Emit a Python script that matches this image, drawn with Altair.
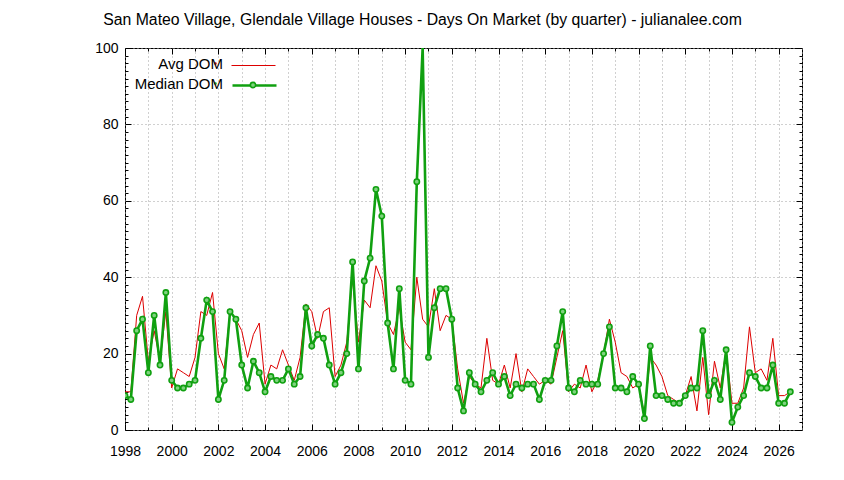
import altair as alt
import pandas as pd

title_text = "San Mateo Village, Glendale Village Houses - Days On Market (by quarter) - julianalee.com"
start_year = 1998

# Avg DOM, one value per quarter from 1998 Q1
avg_dom = [
    10, 10, 30, 35,
    18, 26, 18, 31,
    11, 16, 15, 14,
    19, 31, 30, 36,
    20, 16, 31, 29,
    26, 19, 25, 28,
    12, 17, 16, 21,
    17, 13, 19, 33,
    31, 24, 31, 32,
    14, 17, 23, 40,
    23, 34, 32, 43,
    39, 28, 25, 32,
    23, 21, 40, 29,
    27, 37, 26, 30,
    29, 16, 7, 14,
    12, 11, 24, 13,
    12, 17, 11, 20,
    10, 16, 14, 12,
    13, 12, 19, 26,
    10, 12, 11, 17,
    10, 13, 20, 29,
    23, 15, 14, 11,
    12, 4, 19, 17,
    14, 9, 8, 7,
    9, 14, 5, 19,
    4, 18, 11, 21,
    7, 7, 11, 27,
    15, 16, 13, 24,
    9, 9, 10,
]

# Median DOM, one value per quarter from 1998 Q1 (2010 Q4 runs off the top)
median_dom = [
    9, 8, 26, 29,
    15, 30, 17, 36,
    13, 11, 11, 12,
    13, 24, 34, 31,
    8, 13, 31, 29,
    17, 11, 18, 15,
    10, 14, 13, 13,
    16, 12, 14, 32,
    22, 25, 24, 17,
    12, 15, 20, 44,
    16, 39, 45, 63,
    56, 28, 16, 37,
    13, 12, 65, 140,
    19, 32, 37, 37,
    29, 11, 5, 15,
    12, 10, 13, 15,
    12, 14, 9, 12,
    11, 12, 12, 8,
    13, 13, 22, 31,
    11, 10, 13, 12,
    12, 12, 20, 27,
    11, 11, 10, 14,
    12, 3, 22, 9,
    9, 8, 7, 7,
    9, 11, 11, 26,
    9, 13, 8, 21,
    2, 6, 9, 15,
    14, 11, 11, 17,
    7, 7, 10,
]

series_names = ["Avg DOM", "Median DOM"]
x_domain = [1998, 2027]
y_domain = [0, 100]
all_years = list(range(1998, 2028))
even_years = list(range(1998, 2027, 2))
odd_years = list(range(1999, 2026, 2))
y_major = [0, 20, 40, 60, 80, 100]
y_minor = [v for v in range(2, 100, 2) if v % 20 != 0]

RED = "#dd0000"
GREEN = "#10a010"
GREEN_FILL = "#7fd27f"
FONT = "Liberation Sans"

t = [start_year + 0.25 * i for i in range(len(median_dom))]
df_avg = pd.DataFrame({"t": t, "v": avg_dom, "s": series_names[0]})
df_med = pd.DataFrame({"t": t, "v": median_dom, "s": series_names[1]})

xscale = alt.Scale(domain=x_domain, nice=False, zero=False)
yscale = alt.Scale(domain=y_domain, nice=False, clamp=True)


def tick_axis(orient, values, size):
    return alt.Axis(orient=orient, values=values, tickSize=size, offset=-size,
                    labels=False, domain=False, grid=False, ticks=True,
                    tickColor="black", tickWidth=1)


x_label_axis = alt.Axis(orient="bottom", values=all_years, format="d",
                        labelExpr="datum.value % 2 == 0 ? datum.label : ''",
                        ticks=False, tickSize=0, domain=False, grid=True,
                        gridColor="#a0a0a0", gridDash=[1, 3], gridWidth=1,
                        labelFont=FONT, labelFontSize=14, labelColor="black",
                        labelPadding=14, labelFlush=False, labelOverlap=False)
y_label_axis = alt.Axis(orient="left", values=y_major, format="d",
                        ticks=False, tickSize=0, domain=False, grid=True,
                        gridColor="#a0a0a0", gridDash=[1, 3], gridWidth=1,
                        labelFont=FONT, labelFontSize=14, labelColor="black",
                        labelPadding=7, labelFlush=False, labelOverlap=False)

# symbol-only legends (empty labels) and label-only legends (invisible symbols)
sym_common = dict(orient="none", labelExpr="''", labelOpacity=0, padding=0)
lab_common = dict(orient="none", labelAlign="right", labelFont=FONT, labelFontSize=15,
                  labelColor="black", padding=0, symbolType="circle", symbolSize=1,
                  labelOffset=0)

red = alt.Chart(df_avg).mark_line(strokeWidth=1, clip=True).encode(
    x=alt.X("t:Q", scale=xscale, axis=x_label_axis, title=None),
    y=alt.Y("v:Q", scale=yscale, axis=y_label_axis, title=None),
    color=alt.Color("s:N", title=None,
                    scale=alt.Scale(domain=[series_names[0]], range=[RED]),
                    legend=alt.Legend(legendX=106, legendY=-5, symbolType="stroke",
                                      symbolSize=1936, symbolStrokeWidth=1, **sym_common)),
)

gline = alt.Chart(df_med).mark_line(strokeWidth=2.6, clip=True).encode(
    x=alt.X("t:Q", scale=xscale, axis=tick_axis("top", even_years, 6), title=None),
    y=alt.Y("v:Q", scale=yscale, axis=tick_axis("right", y_major, 6), title=None),
    color=alt.Color("s:N", title=None,
                    scale=alt.Scale(domain=[series_names[1]], range=[GREEN]),
                    legend=alt.Legend(legendX=106, legendY=14, symbolType="stroke",
                                      symbolSize=1936, symbolStrokeWidth=2.6, **sym_common)),
)

gpts = alt.Chart(df_med).transform_filter("datum.v <= 100").mark_point(
    filled=False, fill=GREEN_FILL, shape="circle", size=28, strokeWidth=1.6,
    opacity=1, clip=True).encode(
    x=alt.X("t:Q", scale=xscale, axis=tick_axis("bottom", even_years, 6), title=None),
    y=alt.Y("v:Q", scale=yscale, axis=tick_axis("left", y_major, 6), title=None),
    color=alt.Color("s:N", title=None,
                    scale=alt.Scale(domain=[series_names[1]], range=[GREEN]),
                    legend=alt.Legend(legendX=123, legendY=32, symbolType="circle",
                                      symbolSize=28, symbolStrokeWidth=1.6,
                                      symbolFillColor=GREEN_FILL, **sym_common)),
)

minor_a = alt.Chart(df_avg).mark_point(opacity=0).encode(
    x=alt.X("t:Q", scale=xscale, axis=tick_axis("bottom", odd_years, 3), title=None),
    y=alt.Y("v:Q", scale=yscale, axis=tick_axis("left", y_minor, 3), title=None),
    color=alt.Color("s:N", title=None,
                    scale=alt.Scale(domain=[series_names[0]], range=[RED]),
                    legend=alt.Legend(legendX=83, legendY=8, **lab_common)),
)
minor_b = alt.Chart(df_med).mark_point(opacity=0).encode(
    x=alt.X("t:Q", scale=xscale, axis=tick_axis("top", odd_years, 3), title=None),
    y=alt.Y("v:Q", scale=yscale, axis=tick_axis("right", y_minor, 3), title=None),
    color=alt.Color("s:N", title=None,
                    scale=alt.Scale(domain=[series_names[1]], range=[GREEN]),
                    legend=alt.Legend(legendX=83, legendY=28, **lab_common)),
)

chart = alt.layer(red, gline, gpts, minor_a, minor_b).resolve_scale(
    color="independent"
).resolve_axis(
    x="independent", y="independent"
).properties(
    width=677, height=382,
    title=alt.Title(title_text, font=FONT, fontSize=15.8, fontWeight="normal",
                    color="black", anchor="middle", frame="group", dx=-41, offset=12),
    padding={"left": 117, "top": 40, "right": 20, "bottom": 30},
    autosize="none",
    background="white",
).configure_view(stroke="black", strokeWidth=1)

chart.save("out.html", embed_options={"renderer": "svg", "actions": False})
